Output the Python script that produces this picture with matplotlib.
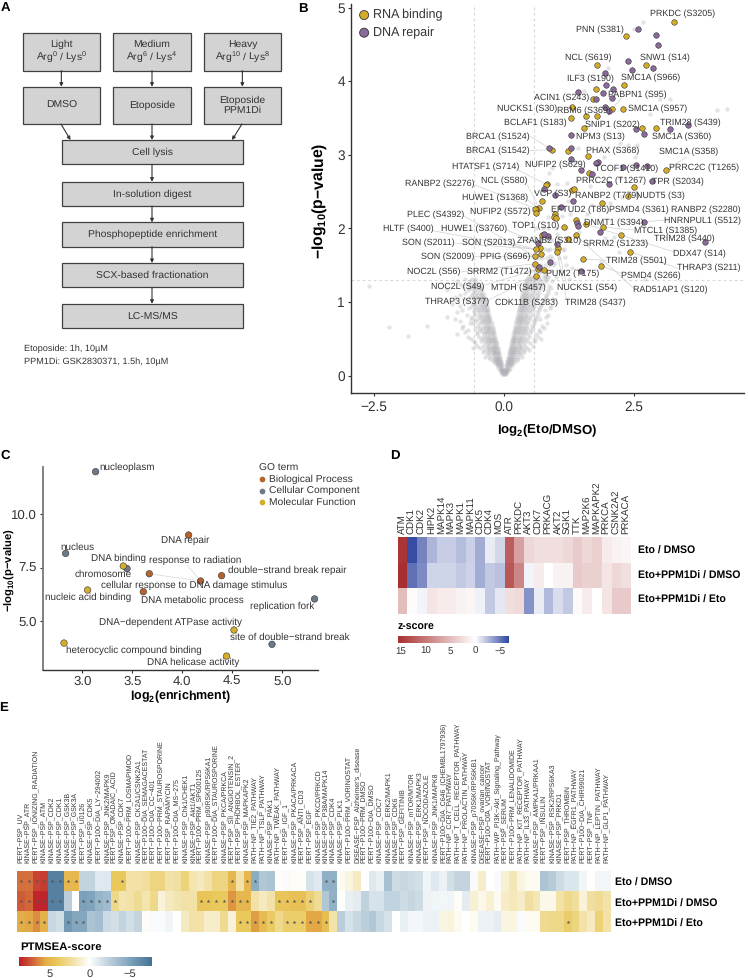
# -*- coding: utf-8 -*-
import numpy as np
import matplotlib
matplotlib.use('Agg')
import matplotlib.pyplot as plt
from matplotlib.colors import LinearSegmentedColormap, Normalize
from matplotlib.cm import ScalarMappable
from matplotlib.patches import Rectangle

plt.rcParams['font.family'] = ['Liberation Sans', 'DejaVu Sans']
plt.rcParams['mathtext.default'] = 'regular'
plt.rcParams['axes.unicode_minus'] = True
plt.rcParams['text.hinting'] = 'no_hinting'

W, H = 748, 980

# panel A
top_labels = ['Light\nArg$^{0}$ / Lys$^{0}$', 'Medium\nArg$^{6}$ / Lys$^{4}$', 'Heavy\nArg$^{10}$ / Lys$^{8}$']
treat_labels = ['DMSO', 'Etoposide', 'Etoposide\nPPM1Di']
step_labels = ['Cell lysis', 'In-solution digest', 'Phosphopeptide enrichment',
               'SCX-based fractionation', 'LC-MS/MS']
foot_labels = ['Etoposide: 1h, 10\u00b5M', 'PPM1Di: GSK2830371, 1.5h, 10\u00b5M']

# panel B, gray cloud: y level and the x values read at that level
cloud_levels = [0.03, 0.08, 0.14, 0.20, 0.26, 0.32, 0.38, 0.44, 0.50, 0.56, 0.62, 0.68, 0.74,
                0.80, 0.86, 0.92, 0.98, 1.04, 1.10, 1.16, 1.22, 1.28, 1.34, 1.42, 1.50, 1.60, 1.72, 1.85, 2.00,
                0.05, 0.11, 0.17, 0.23, 0.29, 0.35, 0.41, 0.47, 0.53, 0.59, 0.65, 0.71, 0.77,
                0.83, 0.89, 0.95, 1.01, 1.07, 1.13, 1.19, 1.25, 1.31]
cloud_xs = [
    [-.04, -.02, 0, .02, .04],
    [-.08, -.06, -.04, -.02, 0, .02, .04, .06, .09],
    [-.14, -.11, -.08, -.06, -.04, .04, .06, .09, .12, .15],
    [-.22, -.17, -.14, -.11, -.08, -.06, .06, .08, .11, .14, .18, .23],
    [-.36, -.28, -.21, -.18, -.14, -.11, -.08, .08, .11, .14, .17, .21, .27, .35],
    [-.41, -.30, -.24, -.20, -.17, -.13, -.10, .10, .13, .17, .20, .25, .31, .39],
    [-.60, -.47, -.33, -.27, -.23, -.19, -.15, -.12, .12, .15, .19, .23, .28, .34, .44],
    [-.55, -.37, -.30, -.26, -.22, -.18, -.14, .14, .18, .22, .26, .31, .38, .50],
    [-.64, -.42, -.34, -.29, -.25, -.21, -.17, .16, .20, .24, .29, .34, .43, .58, .72],
    [-.91, -.52, -.38, -.32, -.27, -.23, -.19, .18, .22, .27, .32, .38, .47, .62],
    [-.70, -.46, -.36, -.31, -.26, -.22, .20, .24, .29, .34, .40, .50, .68],
    [-1.49, -.78, -.50, -.39, -.33, -.28, -.24, .22, .26, .31, .36, .42, .54, .74],
    [-.84, -.55, -.42, -.36, -.31, -.26, .24, .28, .33, .38, .45, .57],
    [-1.1, -.62, -.46, -.39, -.33, -.28, .25, .30, .35, .41, .48, .60, .80],
    [-.90, -.58, -.48, -.41, -.35, -.30, .27, .32, .37, .43, .50, .64],
    [-.68, -.52, -.44, -.38, -.32, .29, .34, .39, .45, .53, .68, .88],
    [-1.0, -.60, -.55, -.46, -.40, -.34, .31, .36, .41, .48, .56, .72],
    [-.76, -.58, -.49, -.43, -.36, .33, .38, .44, .50, .60, .76, .95],
    [-.85, -.62, -.52, -.45, -.39, .35, .40, .46, .53, .63, .80],
    [-1.1, -.70, -.58, -.50, -.42, .37, .43, .49, .56, .66, .84],
    [-2.6, -.78, -.62, -.54, -.46, .40, .45, .52, .60, .70, .86],
    [-.90, -.66, -.56, .42, .48, .55, .63, .72, .80, .92],
    [.46, .52, .60, .68, .76, .85, 1.0],
    [.50, .57, .65, .72, .80, .90, 1.1],
    [.55, .62, .70, .78, .86, .95, 1.2],
    [.58, .66, .74, .82, .92, 1.05],
    [.60, .70, .78, .88, .98, 1.15],
    [.60, .72, .80, .92, 1.05, 1.25],
    [.62, .75, .85, 1.0, 1.2],
    [-.05, -.03, -.01, .01, .03, .05],
    [-.11, -.08, -.05, -.03, .03, .05, .08, .11],
    [-.18, -.14, -.11, -.08, -.05, .05, .08, .11, .14, .18],
    [-.26, -.20, -.16, -.13, -.10, -.07, .07, .10, .13, .16, .20, .26],
    [-.33, -.26, -.21, -.18, -.15, -.12, -.09, .09, .12, .15, .18, .21, .26, .33],
    [-.38, -.31, -.26, -.22, -.19, -.16, -.12, .11, .14, .17, .21, .25, .30, .38, .48],
    [-.52, -.40, -.32, -.28, -.24, -.20, -.17, -.13, .13, .16, .20, .24, .28, .33, .41, .55],
    [-.58, -.45, -.36, -.31, -.27, -.23, -.19, -.16, .15, .18, .22, .26, .30, .36, .45, .60],
    [-.70, -.48, -.40, -.34, -.30, -.26, -.22, -.18, .17, .20, .24, .28, .33, .39, .48, .66],
    [-.75, -.52, -.43, -.37, -.32, -.28, -.24, -.20, .19, .23, .27, .31, .36, .42, .52, .70],
    [-.80, -.56, -.46, -.40, -.34, -.30, -.26, -.22, .21, .25, .29, .33, .38, .45, .56, .76],
    [-.66, -.60, -.49, -.42, -.37, -.32, -.28, -.24, .23, .27, .31, .35, .40, .47, .58, .82],
    [-.95, -.64, -.52, -.45, -.39, -.34, -.30, -.26, .25, .28, .33, .37, .43, .50, .62, .70],
    [-.72, -.55, -.48, -.42, -.37, -.32, -.28, .27, .30, .35, .40, .45, .53, .65, .85],
    [-.80, -.58, -.50, -.44, -.39, -.34, -.30, .29, .32, .37, .42, .48, .55, .68, .78],
    [-.85, -.62, -.53, -.47, -.41, -.36, -.32, .31, .34, .39, .44, .50, .58, .72, .90],
    [-.70, -.56, -.49, -.43, -.38, -.34, .33, .36, .41, .46, .53, .62, .75],
    [-.95, -.66, -.58, -.51, -.45, -.40, .35, .38, .43, .48, .56, .65, .80],
    [-.75, -.60, -.54, -.47, -.42, .37, .40, .45, .51, .59, .68, .85, 1.0],
    [-.68, -.62, -.56, -.49, -.44, .39, .42, .47, .54, .62, .72, .90],
    [-.85, -.70, -.60, -.52, .42, .45, .50, .57, .65, .75],
    [-.75, -.62, -.55, .44, .48, .53, .60, .68, .78],
]
extra_x = [2.68, 2.5, 2.0, 1.54, 3.0, 3.19, 4.10, 4.28, 2.80, 1.56, 3.75, 2.23, 2.55, 2.39, 1.43, 1.93,
           2.51, 1.39, 0.92, 0.87, 1.01, 1.21, 1.65, 2.23, 1.23, 1.69, 2.04, 2.27, 0.85, 1.11, 1.27, 1.59,
           1.94, 2.12, 2.22, 1.45, 1.17, 1.87, 2.72, 1.25, 1.30, 0.82, 1.01, 1.01, 0.85, 0.79, 0.72, 1.14,
           0.98, 0.88, -2.22, -1.84]
extra_y = [4.80, 4.705, 4.18, 3.87, 3.755, 3.76, 3.61, 3.63, 3.55, 3.50, 3.31, 3.16, 3.14, 3.13, 3.10, 2.97,
           2.975, 2.91, 2.82, 2.75, 2.60, 2.62, 2.58, 2.69, 2.37, 2.32, 2.34, 2.43, 2.16, 2.17, 2.2, 2.2,
           1.87, 1.89, 1.685, 1.95, 1.61, 1.55, 1.31, 1.31, 1.46, 1.345, 1.93, 1.89, 1.71, 1.37, 1.84, 1.71,
           1.53, 1.62, 0.665, 0.54]

rna_x = [3.26, 2.34, 1.79, 2.74, 2.31, 1.76, 1.72, 2.28, 2.07, 1.30, 1.58, 1.78, 1.28, 1.53, 2.66, 2.92,
         0.93, 1.24, 1.61, 1.63, 3.11, 0.83, 0.81, 1.30, 1.35, 2.5, 2.39, 0.74, 1.89, 0.68, 0.61,
         0.60, 0.62, 0.98, 0.955, 1.0, 1.38, 1.16, 1.57, 1.90, 2.25, 1.38, 1.24, 0.74, 2.42, 1.52, 1.87,
         1.04, 1.02, 0.69, 0.615, 0.60, 0.705, 0.59, 0.65, 0.76, 0.62]
rna_y = [4.81, 4.615, 4.22, 4.22, 3.945, 3.90, 3.76, 3.63, 3.62, 3.65, 3.53, 3.53, 3.50, 3.36, 3.36, 3.365,
         3.07, 3.05, 2.98, 2.76, 2.79, 2.61, 2.595, 2.52, 2.54, 2.56, 2.44, 2.37, 2.34, 2.28, 2.27,
         2.26, 2.21, 2.20, 2.16, 2.14, 2.12, 2.02, 2.06, 2.02, 1.91, 1.91, 1.86, 1.91, 1.685, 1.58, 1.49,
         1.73, 1.68, 1.74, 1.72, 1.62, 1.66, 1.52, 1.45, 1.43, 1.35]
dna_x = [2.58, 2.92, 2.97, 2.39, 2.87, 2.47, 1.95, 1.96, 1.42, 2.10, 1.90, 2.07, 1.76, 1.95, 2.01, 2.53,
         2.69, 3.20, 3.54, 1.28, 0.86, 1.29, 1.29, 1.81, 1.77, 2.28, 2.53, 2.75, 1.49, 1.69, 2.01, 2.85,
         0.76, 0.99, 1.33, 1.09, 2.69, 1.40, 1.42, 1.85, 0.84, 0.76, 3.87, 0.66, 1.01, 0.89, 0.68, 1.48]
dna_y = [4.705, 4.63, 4.49, 4.28, 4.18, 4.16, 4.11, 3.945, 3.86, 3.89, 3.84, 3.77, 3.755, 3.645, 3.60, 3.35,
         3.29, 3.35, 3.40, 3.27, 3.10, 3.10, 2.95, 2.90, 2.89, 2.84, 2.86, 2.845, 2.80, 2.745, 2.61, 2.645,
         2.535, 2.455, 2.37, 2.29, 2.09, 2.07, 2.03, 1.95, 1.90, 1.93, 1.81, 1.80, 1.79, 1.55, 1.48, 1.42]

site_names = ['PRKDC (S3205)', 'PNN (S381)', 'NCL (S619)', 'SNW1 (S14)', 'ILF3 (S190)', 'SMC1A (S966)',
              'ACIN1 (S243)', 'PABPN1 (S95)', 'NUCKS1 (S30)', 'RBM6 (S369)', 'SMC1A (S957)', 'BCLAF1 (S183)',
              'TRIM28 (S439)', 'SNIP1 (S202)', 'BRCA1 (S1524)', 'NPM3 (S13)', 'SMC1A (S360)', 'BRCA1 (S1542)',
              'PHAX (S368)', 'SMC1A (S358)', 'HTATSF1 (S714)', 'NUFIP2 (S629)', 'TCOF1 (S1410)',
              'PRRC2C (T1265)', 'RANBP2 (S2276)', 'NCL (S580)', 'PRRC2C (T1267)', 'TPR (S2034)',
              'HUWE1 (S1368)', 'VCP (S3)', 'RANBP2 (T779)', 'NUDT5 (S3)', 'NUFIP2 (S572)', 'EFTUD2 (T86)',
              'PSMD4 (S361)', 'RANBP2 (S2280)', 'HNRNPUL1 (S512)', 'PLEC (S4392)', 'DNMT1 (S394)',
              'TOP1 (S10)', 'MTCL1 (S1385)', 'HLTF (S400)', 'HUWE1 (S3760)', 'TRIM28 (S440)', 'SON (S2011)',
              'SON (S2013)', 'ZRANB2 (S310)', 'SRRM2 (S1233)', 'DDX47 (S14)', 'SON (S2009)', 'PPIG (S696)',
              'TRIM28 (S501)', 'THRAP3 (S211)', 'NOC2L (S56)', 'SRRM2 (T1472)', 'PUM2 (T175)', 'PSMD4 (S266)',
              'NOC2L (S49)', 'MTDH (S457)', 'NUCKS1 (S54)', 'RAD51AP1 (S120)', 'THRAP3 (S377)',
              'CDK11B (S283)', 'TRIM28 (S437)']
site_x = [3.44, 1.85, 1.62, 3.09, 1.67, 2.82, 1.115, 2.56, 0.436, 1.54, 2.95, 0.60, 3.59, 2.08, -0.11, 1.86,
          3.42, -0.115, 2.08, 3.54, -0.36, 0.99, 2.35, 3.85, -1.24, 0.006, 2.05, 3.35, -0.17, 0.935, 1.99,
          3.01, -0.064, 1.47, 2.60, 3.88, 3.81, -1.32, 2.115, 0.615, 3.10, -1.84, -0.58, 3.47, -1.46, -0.30,
          0.865, 2.15, 3.76, -1.08, 0.02, 2.54, 3.94, -1.35, -0.09, 1.31, 2.83, -0.885, 0.27, 1.59, 3.19,
          -0.91, 0.436, 1.76]
site_y = [4.92, 4.705, 4.325, 4.325, 4.035, 4.05, 3.77, 3.82, 3.63, 3.60, 3.63, 3.44, 3.43, 3.41, 3.25, 3.25,
          3.24, 3.05, 3.055, 3.04, 2.84, 2.86, 2.81, 2.83, 2.61, 2.645, 2.65, 2.635, 2.415, 2.47, 2.45,
          2.445, 2.23, 2.25, 2.25, 2.255, 2.11, 2.19, 2.08, 2.03, 1.975, 1.99, 1.99, 1.86, 1.80, 1.80,
          1.835, 1.79, 1.66, 1.61, 1.61, 1.56, 1.46, 1.41, 1.41, 1.39, 1.36, 1.21, 1.195, 1.19, 1.165,
          1.00, 0.996, 0.99]
# label connectors: start x, start y, end x, end y
seg_x0 = [.50, .50, .28, -.56, .45, .47, .53, -.77, -1.37, .05, -.94, .21, -.57, .5, -.83, .53, -.365, .18,
          -.3, .31, 1.2, 1.2, 2.49, 2.26, 3.26, 3.34, 1.97, 3.1, 2.49, 2.26, 3.51]
seg_y0 = [3.25, 3.06, 2.79, 2.59, 2.59, 2.38, 2.23, 2.17, 1.97, 1.98, 1.8, 1.79, 1.62, 1.63, 1.41, 1.46, 1.23,
          1.25, 1.03, 1.06, 1.05, 1.25, 1.19, 1.39, 1.685, 1.46, 1.57, 2.115, 1.98, 3.77, 2.97]
seg_x1 = [.86, .93, .81, .61, .68, .64, .6, .6, .63, .66, .6, .6, .6, .6, .59, .59, .65, .62, .62, .76, 1.02,
          1.04, 1.38, 1.87, 1.57, 2.42, 1.52, 2.69, 1.9, 2.07, 3.11]
seg_y1 = [3.1, 3.07, 2.6, 2.27, 2.28, 2.28, 2.26, 1.62, 1.71, 1.8, 1.72, 1.72, 1.62, 1.62, 1.52, 1.52, 1.45, 1.35,
          1.35, 1.43, 1.68, 1.73, 1.91, 1.49, 2.06, 1.685, 1.58, 2.09, 2.02, 3.62, 2.79]

# panel C
go_names = ['nucleoplasm', 'nucleus', 'chromosome', 'DNA binding', 'nucleic acid binding', 'DNA repair',
            'response to radiation', 'double\u2212strand break repair',
            'cellular response to DNA damage stimulus', 'DNA metabolic process', 'replication fork',
            'DNA\u2212dependent ATPase activity', 'site of double\u2212strand break',
            'heterocyclic compound binding', 'DNA helicase activity']
go_type = ['CC', 'CC', 'CC', 'MF', 'MF', 'BP', 'BP', 'BP', 'BP', 'BP', 'CC', 'MF', 'CC', 'MF', 'MF']
go_x = [3.133, 2.833, 3.447, 3.41, 3.053, 4.063, 4.183, 4.393, 3.67, 3.61, 5.323, 4.517, 4.897, 2.817, 4.443]
go_y = [11.98, 8.16, 7.45, 7.57, 6.45, 9.02, 6.87, 7.12, 7.21, 6.37, 6.03, 4.58, 3.91, 3.97, 3.36]
go_tx = [3.447, 2.953, 3.21, 3.36, 3.06, 4.033, 4.133, 5.047, 4.123, 4.097, 5.003, 3.877, 5.07, 3.513, 4.113]
go_ty = [12.17, 8.46, 7.165, 7.93, 6.09, 8.77, 7.82, 7.35, 6.67, 5.97, 5.70, 4.94, 4.24, 3.64, 3.08]
go_colors = {'BP': '#B5622B', 'CC': '#6A7A8A', 'MF': '#D3AE2A'}
go_legend = ['Biological Process', 'Cellular Component', 'Molecular Function']

# panel D
row_names = ['Eto / DMSO', 'Eto+PPM1Di / DMSO', 'Eto+PPM1Di / Eto']
d_kinases = ['ATM', 'CDK1', 'CDK2', 'HIPK2', 'MAPK14', 'MAPK3', 'MAPK1', 'MAPK11', 'CDK5', 'CDK4', 'MOS', 'ATR',
             'PRKDC', 'AKT3', 'CDK7', 'PRKACG', 'AKT2', 'SGK1', 'TTK', 'MAP2K6', 'MAPKAPK2', 'PRKCA', 'CSNK2A2',
             'PRKACA']
d_row1 = [15, -6.5, -4.5, -2.7, -1.8, -1.8, -2.4, -1.7, -3, -0.7, -1.4, 12, 7, 3, 2.5, 2.5, 2.5, 3, 4, 3, 3.5, 1.5, 1, 0.7]
d_row2 = [16, -5.2, -4.2, -1.5, -1.5, -1.5, -2, -1.6, -3, -2, -2.2, 12.5, 9, -0.4, 1.5, 0, 1, 1, 4, 3.5, 3.5, 2, 3, 2.5]
d_row3 = [5, 0.3, -0.4, 2, 1.5, 1.5, 1, 0.7, -0.5, -2, -0.8, 2.5, 2.8, -4, -0.7, -2.5, -1.3, -2, 0.4, 1.5, 0, 2, 4, 4]

# panel E
e_terms = ['PERT\u2212PSP_UV', 'KINASE\u2212PSP_ATR', 'PERT\u2212PSP_IONIZING_RADIATION', 'KINASE\u2212PSP_ATM',
           'KINASE\u2212PSP_CDK2', 'KINASE\u2212PSP_CDK1', 'KINASE\u2212PSP_GSK3B', 'KINASE\u2212PSP_GSK3A',
           'PERT\u2212PSP_U0126', 'KINASE\u2212PSP_CDK5', 'PERT\u2212P100\u2212DIA_LY\u2212294002',
           'KINASE\u2212PSP_JNK2/MAPK9', 'PERT\u2212PSP_OKADAIC_ACID', 'KINASE\u2212PSP_CDK7',
           'PERT\u2212P100\u2212PRM_LOSMAPIMOD', 'KINASE\u2212PSP_CK2A1/CSNK2A1', 'PERT\u2212P100\u2212DIA_SEMAGACESTAT',
           'PERT\u2212P100\u2212DIA_CC\u2212401', 'PERT\u2212P100\u2212PRM_STAUROSPORINE', 'PERT\u2212PSP_RAPAMYCIN',
           'PERT\u2212P100\u2212DIA_MS\u2212275', 'KINASE\u2212PSP_Chk1/CHEK1', 'KINASE\u2212PSP_Akt1/AKT1',
           'PERT\u2212P100\u2212PRM_SP600125', 'KINASE\u2212PSP_p90RSK/RPS6KA1', 'PERT\u2212P100\u2212DIA_STAUROSPORINE',
           'KINASE\u2212PSP_PKCA/PRKCA', 'PERT\u2212PSP_SII_ANGIOTENSIN_2', 'PERT\u2212PSP_PHORBOL_ESTER',
           'KINASE\u2212PSP_MAPKAPK2', 'PATH\u2212NP_TIE2_PATHWAY', 'PATH\u2212NP_TSLP_PATHWAY', 'KINASE\u2212PSP_PAK1',
           'PATH\u2212NP_TWEAK_PATHWAY', 'PERT\u2212PSP_IGF_1', 'KINASE\u2212PSP_PKACA/PRKACA', 'PERT\u2212PSP_ANTI_CD3',
           'PERT\u2212PSP_EGF', 'KINASE\u2212PSP_PKCD/PRKCD', 'KINASE\u2212PSP_P38A/MAPK14', 'KINASE\u2212PSP_CDK4',
           'KINASE\u2212PSP_PLK1', 'PERT\u2212P100\u2212PRM_VORINOSTAT', "DISEASE\u2212PSP_Alzheimer's_disease",
           'PERT\u2212P100\u2212PRM_DMSO', 'PERT\u2212P100\u2212DIA_DMSO', 'KINASE\u2212PSP_CDC7', 'KINASE\u2212PSP_ERK2/MAPK1',
           'KINASE\u2212PSP_CDK6', 'PERT\u2212PSP_GEFITINIB', 'KINASE\u2212PSP_mTOR/MTOR', 'KINASE\u2212PSP_ERK1/MAPK3',
           'PERT\u2212PSP_NOCODAZOLE', 'KINASE\u2212PSP_JNK1/MAPK8', 'PERT\u2212P100\u2212DIA_C646_(CHEMBL1797936)',
           'PATH\u2212NP_CCR7_PATHWAY', 'PATH\u2212NP_T_CELL_RECEPTOR_PATHWAY', 'PATH\u2212NP_PROLACTIN_PATHWAY',
           'KINASE\u2212PSP_p70S6K/RPS6KB1', 'DISEASE\u2212PSP_ovarian_cancer', 'PERT\u2212P100\u2212DIA_VORINOSTAT',
           'PATH\u2212WP_PI3K\u2212Akt_Signaling_Pathway', 'PERT\u2212PSP_SERUM', 'PERT\u2212P100\u2212PRM_LENALIDOMIDE',
           'PATH\u2212NP_KIT_RECEPTOR_PATHWAY', 'PATH\u2212NP_IL33_PATHWAY', 'KINASE\u2212PSP_AMPKA1/PRKAA1',
           'PERT\u2212PSP_INSULIN', 'KINASE\u2212PSP_RSK2/RPS6KA3', 'KINASE\u2212PSP_PRKD1', 'PERT\u2212PSP_THROMBIN',
           'PATH\u2212NP_EGFR1_PATHWAY', 'PERT\u2212P100\u2212DIA_CHIR99021', 'PERT\u2212PSP_TNF',
           'PATH\u2212NP_LEPTIN_PATHWAY', 'PATH\u2212NP_GLP1_PATHWAY']
e_row1 = [6.8, 6.8, 7.8, 8, -7, -7, 5, 5, -2.2, -2.2, -1.2, -1.2, 4, 4, 2, 2, 2.3, 3, 3, 2, 2.2, 3.2, 1.8, 1.5,
          2, 3, 3, 5, 2, 5, -4.5, -3, -3.2, 0.1, -0.3, 0.2, 0.1, -1.5, -1.1, -4.3, -4.3, 0.4, 0.7, 1.4, 0, -1.2,
          -0.8, -3.3, -1.8, -2, -1.8, -1.6, -0.5, -1.2, -0.7, -1.7, -2.2, -2.2, -0.3, 1.2, 0, -0.3, 1, 1.7, 0.7,
          0.4, 0.4, -3.1, -2.7, -1.8, -1.3, -1.3, -0.5, 0.05, -0.45, -0.45]
e_row2 = [7.2, 7, 8.6, 8.6, -7, -7, -2.6, 0, -5.2, -5, -4, -3.6, 2.8, 1.8, 2, 2.5, 1.8, 2.8, 0.8, 1.5, 1.8, 2, 2,
          4.2, 4.2, 4, 4, 6, 5, 5, 2, 1.5, 2, 4.2, 4.2, 4.4, 4.4, 3.4, 2.5, -3, -4.2, 0, -0.8, -1, -2.4, -1.4, -1.5,
          -2.3, -2.3, -1.8, -2.1, -1.8, -0.6, -0.5, -0.45, -0.5, 0.2, -1, 1, 0.5, 1, 0.4, 1.3, 1.6, 1.3, 2.2, 1.7,
          0.5, 0.5, 2, 2.8, 2.3, 0.9, 2.2, 2.5, 1.9]
e_row3 = [5.5, 5.6, 6.2, 5.2, -2, -1.7, -5.6, -4.8, -4.8, -3.2, -3.5, -1.9, -1.6, -2.3, -1.7, -2.2, 0.2, -0.3, -0.2,
          -0.5, 0, 1.5, 2, 2, 1.2, 1.2, 2.6, 0.9, 4, 4, 5.8, 4.7, 3.8, 2.7, 3.5, 3.6, 3.6, 5.6, 5.6, 4.6, 1.9,
          -2.6, -1.5, -2, -2.5, -3, -2, -1.5, 0, -0.8, -0.4, -0.4, -0.7, -0.7, 0.7, 0.8, 0.4, 0, 0.4, -0.7, -0.7,
          -0.9, 0.7, 0.7, -0.3, 0.4, 0.3, 2.6, 2.8, 2.8, 3.7, 3.1, 2, 1.4, 3.3, 2]
e_stars1 = [1, 2, 3, 4, 5, 6, 7, 8, 14, 28, 30, 31, 40, 41]
e_stars2 = [1, 2, 3, 4, 5, 6, 9, 10, 11, 12, 13, 24, 25, 26, 27, 28, 29, 30, 34, 35, 36, 37, 38, 41]
e_stars3 = [1, 2, 3, 4, 7, 8, 9, 29, 30, 31, 32, 33, 35, 36, 37, 38, 39, 40, 71]

TXT = '#333333'
fig = plt.figure(figsize=(W / 100, H / 100), dpi=100)


def px_axes(l, t, r, b):
    return fig.add_axes([l / W, 1 - b / H, (r - l) / W, (b - t) / H])


def style_axes(ax, size):
    for s in ['top', 'right']:
        ax.spines[s].set_visible(False)
    for s in ['left', 'bottom']:
        ax.spines[s].set_color('#333333')
        ax.spines[s].set_linewidth(1.0)
    ax.tick_params(labelsize=size, labelcolor=TXT, length=2, width=0.8, color='#333333', pad=2)


# page overlay in pixels, used for panel A and all loose text
page = fig.add_axes([0, 0, 1, 1], zorder=0)
page.set_xlim(0, W)
page.set_ylim(H, 0)
page.axis('off')

for s, x, y in [('A', 5, 8), ('B', 303, 9), ('C', 5, 456), ('D', 395, 456), ('E', 4, 708)]:
    page.text(x, y, s, fontsize=9.5, fontweight='bold', ha='center', va='center', color='black')


def box(l, t, r, b, label):
    page.add_patch(Rectangle((l, t), r - l, b - t, fc='#D3D3D3', ec='#404040', lw=0.9))
    page.text((l + r) / 2, (t + b) / 2, label, fontsize=7.5, color=TXT, ha='center', va='center', linespacing=1.1)


def arrow(x0, y0, x1, y1):
    page.annotate('', xy=(x1, y1), xytext=(x0, y0),
                  arrowprops=dict(arrowstyle='-|>', lw=0.8, color='#333333', mutation_scale=5,
                                  shrinkA=0, shrinkB=0))


col_l = [22.7, 113.3, 204]
col_r = [100, 190.7, 280.7]
for l, r, a, b in zip(col_l, col_r, top_labels, treat_labels):
    box(l, 33, r, 70.7, a)
    box(l, 86.7, r, 124, b)
    arrow((l + r) / 2, 70.7, (l + r) / 2, 86.7)
arrow(61, 124, 70.5, 140)
arrow(152, 124, 152, 140)
arrow(242, 124, 232, 140)
step_t = [140, 181.7, 222.3, 263, 303.7]
for t, lab in zip(step_t, step_labels):
    box(61.7, t, 242.7, t + 24.4, lab)
for t0, t1 in zip(step_t[:-1], step_t[1:]):
    arrow(152, t0 + 24.4, 152, t1)
page.text(24, 349, foot_labels[0], fontsize=6.6, color=TXT, va='center')
page.text(24, 361.7, foot_labels[1], fontsize=6.6, color=TXT, va='center')

# panel B
axb = px_axes(350.5, 4, 744, 393.3)
style_axes(axb, 9.8)
axb.patch.set_alpha(0)
axb.set_xlim(-2.952, 4.615)
axb.set_ylim(-0.239, 5.05)
cloud_x = [x for xs in cloud_xs for x in xs] + extra_x
cloud_y = [y for y, xs in zip(cloud_levels, cloud_xs) for x in xs] + extra_y
axb.scatter(cloud_x, cloud_y, s=10, c='#A8A8B0', alpha=0.3, linewidths=0, zorder=1)
for v in [-0.583, 0.583]:
    axb.axvline(v, color='#D8D8D8', lw=0.8, ls=(0, (2.5, 2.5)), zorder=0)
axb.axhline(1.30, color='#D8D8D8', lw=0.8, ls=(0, (2.5, 2.5)), zorder=0)
for a, b, c, d in zip(seg_x0, seg_y0, seg_x1, seg_y1):
    axb.plot([a, c], [b, d], color='#D0D0D0', lw=0.5, zorder=2)
axb.scatter(rna_x, rna_y, s=16, c='#D3AC2A', edgecolors='#333333', linewidths=0.4, zorder=3)
axb.scatter(dna_x, dna_y, s=16, c='#8B6B9B', edgecolors='#333333', linewidths=0.4, zorder=3)
for n, x, y in zip(site_names, site_x, site_y):
    axb.text(x, y, n, fontsize=6.4, color=TXT, ha='center', va='center', zorder=4)
axb.set_xticks([-2.5, 0, 2.5], ['\u22122.5', '0.0', '2.5'])
axb.set_yticks([0, 1, 2, 3, 4, 5])
axb.tick_params(axis='x', pad=3)
page.text(547, 431, 'log$_{2}$(Eto/DMSO)', fontsize=9.5, fontweight='bold', ha='center', va='center', color='black')
page.text(320, 201, '\u2212log$_{10}$(p\u2212value)', fontsize=11.3, fontweight='bold', rotation=90,
          ha='center', va='center', color='black')
axb.scatter([-2.69, -2.69], [4.9, 4.66], s=42, c=['#D3AC2A', '#8B6B9B'], edgecolors='#333333', linewidths=0.6,
            zorder=5)
axb.text(-2.51, 4.9, 'RNA binding', fontsize=9, color=TXT, va='center')
axb.text(-2.51, 4.66, 'DNA repair', fontsize=9, color=TXT, va='center')

# panel C
axc = px_axes(42.7, 467, 318.3, 670)
style_axes(axc, 9.5)
axc.spines['left'].set_color('#777777')
axc.spines['left'].set_linewidth(1.3)
axc.patch.set_alpha(0)
axc.set_xlim(2.604, 5.36)
axc.set_ylim(2.71, 12.2)
axc.plot([3.67, 4.183], [7.21, 6.87], color='#D8D8D8', lw=0.5, zorder=1)
axc.plot([4.183, 4.05], [6.87, 7.6], color='#D8D8D8', lw=0.5, zorder=1)
axc.scatter(go_x, go_y, s=22, c=[go_colors[t] for t in go_type], edgecolors='#333333', linewidths=0.4, zorder=3)
for n, x, y in zip(go_names, go_tx, go_ty):
    axc.text(x, y, n, fontsize=7.1, color=TXT, ha='center', va='center', zorder=4)
axc.set_xticks([3, 3.5, 4, 4.5, 5], ['3.0', '3.5', '4.0', '4.5', '5.0'])
axc.set_yticks([5, 7.5, 10], ['5.0', '7.5', '10.0'])
page.text(181, 697, 'log$_{2}$(enrichment)', fontsize=9, fontweight='bold', ha='center', va='center', color='black')
page.text(10, 570, '\u2212log$_{10}$(p\u2212value)', fontsize=8.1, fontweight='bold', rotation=90,
          ha='center', va='center', color='black')
page.text(259, 468, 'GO term', fontsize=7.4, color=TXT, va='center')
for y, lab, key in zip([479.3, 490.6, 502], go_legend, ['BP', 'CC', 'MF']):
    page.scatter([262], [y], s=17, c=go_colors[key], linewidths=0)
    page.text(269.3, y, lab, fontsize=7.4, color=TXT, va='center')

# panel D
d_vmin, d_vmax = -6.8, 15.5
d_cmap = LinearSegmentedColormap.from_list(
    'dscore', [(0, '#2F459F'), ((0 - d_vmin) / (d_vmax - d_vmin), '#FFFFFF'), (1, '#A82F2F')])
d_norm = Normalize(d_vmin, d_vmax)
axd = px_axes(397.7, 536.7, 631, 614.3)
axd.pcolormesh(np.array([d_row1, d_row2, d_row3]), cmap=d_cmap, norm=d_norm)
axd.invert_yaxis()
axd.axis('off')
for i, k in enumerate(d_kinases):
    page.text(397.7 + (i + 0.5) * 233.3 / 24, 534, k, rotation=90, fontsize=7, color=TXT, ha='center', va='bottom')
for y, n in zip([551, 575.7, 600], row_names):
    page.text(637.7, y, n, fontsize=7.6, fontweight='bold', color='black', va='center')
cd = px_axes(398, 635.7, 509.3, 642.7)
cb = fig.colorbar(ScalarMappable(norm=d_norm, cmap=d_cmap), cax=cd, orientation='horizontal')
cb.outline.set_visible(False)
cd.invert_xaxis()
cb.set_ticks([15, 10, 5, 0, -5], labels=['15', '10', '5', '0', '\u22125'])
cd.tick_params(length=0, labelsize=7, labelcolor=TXT, pad=2.5)
page.text(398, 627, 'z-score', fontsize=7.6, fontweight='bold', color='black', va='center')

# panel E
e_vmin, e_vmax = -7.8, 8.75
e_anchor = [(-7.8, '#457296'), (-5, '#7FA4BC'), (-2, '#C8D8E2'), (0, '#FFFFFF'), (2, '#F2E2A8'), (4, '#E9C85C'),
            (5.5, '#E3AE46'), (7, '#D2673A'), (8.75, '#BD1E2A')]
e_cmap = LinearSegmentedColormap.from_list(
    'ptmsea', [((v - e_vmin) / (e_vmax - e_vmin), c) for v, c in e_anchor])
e_norm = Normalize(e_vmin, e_vmax)
axe = px_axes(17, 870.7, 610.7, 931.7)
axe.pcolormesh(np.array([e_row1, e_row2, e_row3]), cmap=e_cmap, norm=e_norm)
axe.invert_yaxis()
axe.axis('off')
for r, stars in enumerate([e_stars1, e_stars2, e_stars3]):
    axe.scatter([c - 0.5 for c in stars], [r + 0.5] * len(stars), s=8, marker='*', c='#555555', linewidths=0, zorder=3)
for i, k in enumerate(e_terms):
    page.text(17 + (i + 0.5) * 593.7 / 76, 863.3, k, rotation=90, fontsize=5.0, color=TXT, ha='center', va='bottom')
for y, n in zip([883, 903.7, 924], row_names):
    page.text(615, y, n, fontsize=7.6, fontweight='bold', color='black', va='center')
ce = px_axes(19.3, 957.3, 152, 966)
cb2 = fig.colorbar(ScalarMappable(norm=e_norm, cmap=e_cmap), cax=ce, orientation='horizontal')
cb2.outline.set_visible(False)
ce.invert_xaxis()
cb2.set_ticks([5, 0, -5], labels=['5', '0', '\u22125'])
ce.tick_params(length=0, labelsize=8, labelcolor=TXT, pad=2)
page.text(20, 947, 'PTMSEA-score', fontsize=8.2, fontweight='bold', color='black', va='center')

fig.savefig('out.png', dpi=100)
